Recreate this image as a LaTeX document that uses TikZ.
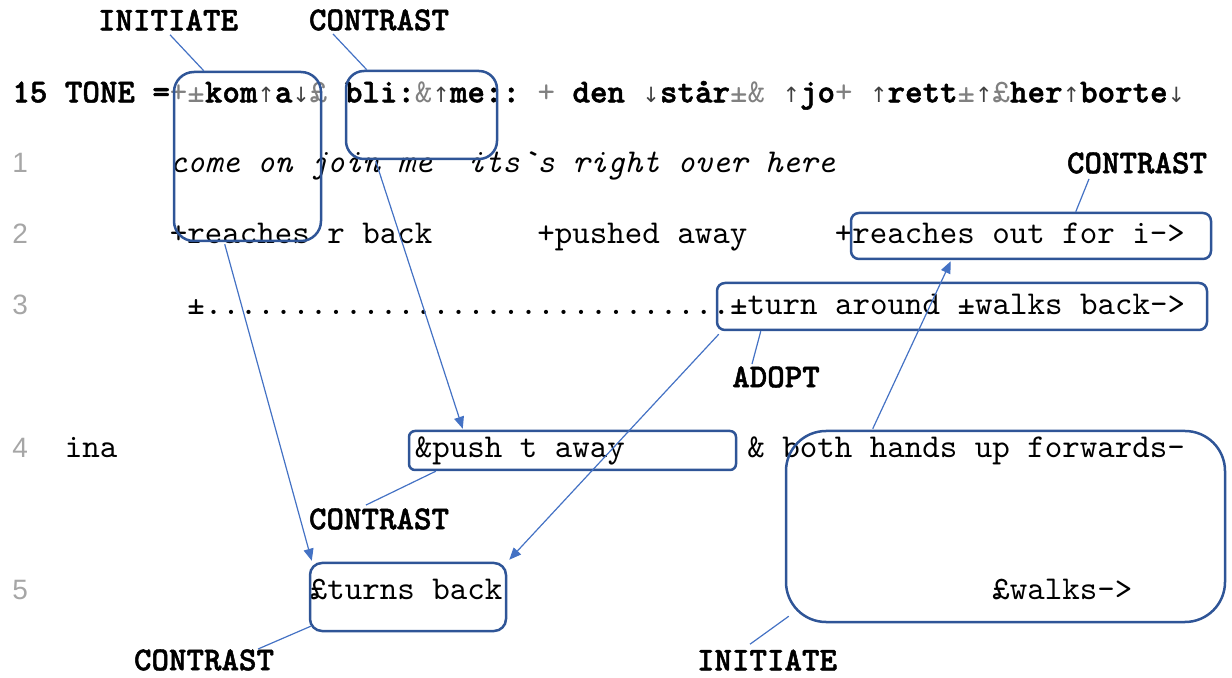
\documentclass[tikz,border=0pt]{standalone}
\usepackage{fontspec}
\setsansfont{Liberation Sans}
\setmonofont{lmmono10-regular.otf}[
  BoldFont=lmmonolt10-bold.otf,
  ItalicFont=lmmono10-italic.otf,
  BoldFeatures={FakeBold=1.5}]
\newfontfamily\arrowfont{DejaVu Sans}
\usetikzlibrary{%
  arrows.meta,% wg. Triangle
  fit,% wg. boxes round the text
  positioning%
}
\definecolor{boxblue}{HTML}{2F5597}
\definecolor{linkblue}{HTML}{4472C4}
\definecolor{markgray}{HTML}{808080}
\definecolor{numgray}{HTML}{A6A6A6}
\newcommand{\mono}{\ttfamily\fontsize{16.67}{20}\selectfont\frenchspacing}
\newcommand{\mk}[1]{\textcolor{markgray}{\mdseries #1}}
\newcommand{\upar}{\makebox[0.525em][c]{\arrowfont\fontsize{10.5}{10}\selectfont\textcolor{black!75}{↑}}}
\newcommand{\dnar}{\makebox[0.525em][c]{\arrowfont\fontsize{10.5}{10}\selectfont\textcolor{black!75}{↓}}}

\begin{document}
\begin{tikzpicture}[x=0.5pt,y=-0.5pt,
	transcript/.style={
	anchor=mid west,inner sep=0pt,yshift=-2.5pt,font=\mono
	},linenum/.style={
	anchor=west,inner sep=0pt,text=numgray,
	font=\sffamily\fontsize{14}{17}\selectfont
	},move/.style={
	anchor=center,inner sep=0pt,font=\mono\bfseries
	},unit/.style={
	rectangle,draw=boxblue,line width=1.25pt,inner sep=0pt
	},link/.style={
	draw=linkblue,line width=0.6pt
	},pointer/.style={
	-{Triangle[length=6pt,width=5pt]}
	}
]
\useasboundingbox (0,0) rectangle (1232,678);

% Title row
\node (title) [transcript] at (12,93) {\textbf{15 TONE =}\mk{+±}\textbf{kom}\upar\textbf{a}\dnar\mk{£} \textbf{bli:}\mk{\&}\upar\textbf{me::} \mk{+} \textbf{den} \dnar\textbf{står}\mk{±\&} \upar\textbf{jo}\mk{+} \upar\textbf{rett}\mk{±}\upar\mk{£}\textbf{her}\upar\textbf{borte}\dnar};
% Numbered rows
\node (num1) [linenum] at (12,163) {1};
\node (num2) [linenum] at (12,234) {2};
\node (num3) [linenum] at (12,305) {3};
\node (num4) [linenum] at (12,448) {4};
\node (num5) [linenum] at (12,590) {5};

\node (row1) [transcript] at (169.5,163) {\itshape come on join me~~its\textasciigrave s right over here};
\node (row2a) [transcript] at (169.5,234) {+reaches r back};
\node (row2b) [transcript] at (537,234) {+pushed away};
\node (row2c) [transcript] at (834.5,234) {+reaches out for i->};
\node (row3) [transcript] at (187,305) {±..............................±turn around ±walks back->};
\node (row4a) [transcript] at (64.5,448) {ina};
\node (row4b) [transcript] at (414.5,448) {\&push t away};
\node (row4c) [transcript] at (747,448) {\& both hands up forwards-};
\node (row5a) [transcript] at (309.5,590) {£turns back};
\node (row5b) [transcript] at (992,590) {£walks->};

% Moves
\node (initiate1) [move] at (168,20) {INITIATE};
\node (contrast1) [move] at (379,20) {CONTRAST};
\node (contrast3) [move] at (1137,163) {CONTRAST};
\node (adopt1) [move] at (776,377) {ADOPT};
\node (contrast2) [move] at (379,519) {CONTRAST};
\node (contrast4) [move] at (204,660) {CONTRAST};
\node (initiate2) [move] at (767,660) {INITIATE};

% Boxes
\node (box1) [unit,rounded corners=10pt,fit={(174,72) (321,241)}] {};
\node (box2) [unit,rounded corners=9pt,fit={(346,71) (497,159)}] {};
\node (box3) [unit,rounded corners=4pt,fit={(851,213) (1211,259)}] {};
\node (box4) [unit,rounded corners=4pt,fit={(717,283) (1207,330)}] {};
\node (box5) [unit,rounded corners=3pt,fit={(409,431) (736,470)}] {};
\node (box6) [unit,rounded corners=20pt,fit={(786,431) (1225,622)}] {};
\node (box7) [unit,rounded corners=6pt,fit={(310,563) (506,631)}] {};

\path	([shift={(2,4)}]initiate1.south) edge[link] ([shift={(31,0)}]box1.north west)
	([shift={(-46,3)}]contrast1.south) edge[link] ([shift={(22,0)}]box2.north west)
	([shift={(-48,5)}]contrast3.south) edge[link] ([shift={(226,0)}]box3.north west)
	([shift={(-24,-2)}]adopt1.north) edge[link] ([shift={(45,0)}]box4.south west)
	([shift={(-13,-3)}]contrast2.north) edge[link] ([shift={(28,0)}]box5.south west)
	([shift={(54,0)}]contrast4.north) edge[link] ([shift={(2,-6)}]box7.south west)
	([shift={(-17,-5)}]initiate2.north) edge[link] ([shift={(4,-7)}]box6.south west);
\path	([shift={(52,2)}]box1.south west) edge[link,pointer] ([shift={(3,-1)}]box7.north west)
	([shift={(31,1)}]box2.south west) edge[link,pointer] ([shift={(55,-1)}]box5.north west)
	([shift={(3,3)}]box4.south west) edge[link,pointer] ([shift={(2,-2)}]box7.north east)
	([shift={(88,-1)}]box6.north west) edge[link,pointer] ([shift={(101,1)}]box3.south west);

\end{tikzpicture}
\end{document}
